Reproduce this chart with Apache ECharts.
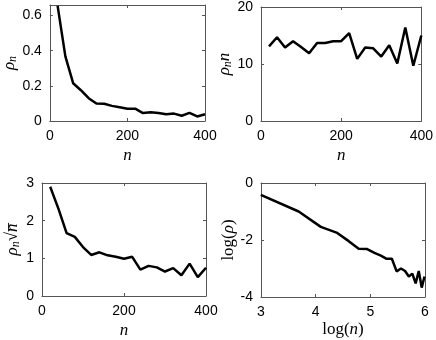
<!DOCTYPE html>
<html>
<head>
<meta charset="utf-8">
<script src="https://cdn.jsdelivr.net/npm/echarts@6/dist/echarts.min.js"></script>
<style>
  html, body { margin: 0; padding: 0; background: #fff; }
  #chart { width: 436px; height: 340px; }
</style>
</head>
<body>
<div id="chart"></div>
<script>
// sample sizes
const nValues = [20, 40, 60, 80, 100, 120, 140, 160, 180, 200, 220, 240, 260, 280, 300, 320, 340, 360, 380, 400]
// rho_n (top left)
const rho = [0.655, 0.368, 0.215, 0.175, 0.130, 0.099, 0.098, 0.086, 0.078, 0.070, 0.070, 0.045, 0.050, 0.046, 0.038, 0.042, 0.030, 0.046, 0.026, 0.038]
// rho_n * n (top right)
const rhoTimesN = [13.1, 14.7, 12.9, 14.0, 13.0, 11.9, 13.7, 13.7, 14.0, 14.0, 15.4, 10.9, 12.9, 12.75, 11.3, 13.3, 10.1, 16.4, 9.7, 15.0]
// rho_n * sqrt(n) (bottom left)
const rhoTimesSqrtN = [2.90, 2.32, 1.67, 1.57, 1.30, 1.09, 1.16, 1.08, 1.04, 0.99, 1.04, 0.70, 0.80, 0.76, 0.65, 0.74, 0.55, 0.86, 0.50, 0.75]
// log(n) and log(rho) (bottom right)
const logN = [2.996, 3.689, 4.094, 4.382, 4.605, 4.787, 4.942, 5.075, 5.193, 5.298, 5.394, 5.481, 5.561, 5.635, 5.704, 5.768, 5.829, 5.886, 5.940, 5.991]
const logRho = [-0.42, -1.00, -1.54, -1.74, -2.04, -2.31, -2.32, -2.45, -2.55, -2.66, -2.66, -3.10, -3.00, -3.09, -3.28, -3.18, -3.52, -3.09, -3.67, -3.28]

const panels = [
  { grid: { left: 42, top: 5, width: 163, height: 116 }, x: nValues, y: rho,
    xAxis: { min: 0, max: 400, interval: 200 }, yAxis: { min: 0, max: 0.66, interval: 0.2 },
    xName: '{i|n}', yName: '{i|ρ}{s|n}', yGap: 26, xGap: 26, hideMaxY: true },
  { grid: { left: 261, top: 6, width: 164, height: 115 }, x: nValues, y: rhoTimesN,
    xAxis: { min: 0, max: 400, interval: 200 }, yAxis: { min: 0, max: 20, interval: 10 },
    xName: '{i|n}', yName: '{i|ρ}{s|n}{i|n}', yGap: 24, xGap: 26 },
  { grid: { left: 42, top: 183, width: 164, height: 114 }, x: nValues, y: rhoTimesSqrtN,
    xAxis: { min: 0, max: 400, interval: 200 }, yAxis: { min: 0, max: 3, interval: 1 },
    xName: '{i|n}', yName: '{i|ρ}{s|n}{r|√}{i|n̅}', yGap: 20, xGap: 26 },
  { grid: { left: 261, top: 183, width: 164, height: 114 }, x: logN, y: logRho,
    xAxis: { min: 3, max: 6, interval: 1 }, yAxis: { min: -4, max: 0, interval: 2 },
    xName: '{r|log(}{i|n}{r|)}', yName: '{r|log(}{i|ρ}{r|)}', yGap: 20, xGap: 24 }
]

const axisColor = '#555'
const nameRich = {
  i: { fontFamily: 'Liberation Serif', fontStyle: 'italic', fontSize: 17, color: '#000' },
  r: { fontFamily: 'Liberation Serif', fontSize: 17, color: '#000' },
  s: { fontFamily: 'Liberation Serif', fontStyle: 'italic', fontSize: 12, color: '#000', padding: [6, 0, 0, 0] }
}

function baseAxis(gridIndex, range, position, showLabels) {
  return {
    type: 'value', gridIndex, position, ...range,
    axisLine: { show: true, onZero: false, lineStyle: { color: axisColor, width: 1 } },
    axisTick: { show: true, inside: true, length: 3, lineStyle: { color: axisColor } },
    axisLabel: { show: showLabels, color: '#000', fontSize: 14, fontFamily: 'Liberation Sans', margin: 8 },
    splitLine: { show: false }
  }
}

const grid = [], xAxis = [], yAxis = [], series = []
panels.forEach((p, k) => {
  grid.push(p.grid)
  const xa = baseAxis(k, p.xAxis, 'bottom', true)
  xa.name = p.xName
  xa.nameLocation = 'middle'
  xa.nameGap = p.xGap
  xa.nameTextStyle = { rich: nameRich }
  xAxis.push(xa)
  const ya = baseAxis(k, p.yAxis, 'left', true)
  ya.name = p.yName
  ya.nameLocation = 'middle'
  ya.nameGap = p.yGap
  ya.nameTextStyle = { rich: nameRich }
  if (p.hideMaxY) ya.axisLabel.showMaxLabel = false
  yAxis.push(ya)
  series.push({
    type: 'line', xAxisIndex: k, yAxisIndex: k,
    data: p.x.map((v, j) => [v, p.y[j]]),
    showSymbol: false, clip: true,
    lineStyle: { color: '#000', width: 2.5 }
  })
})
// box: mirrored axes on top and right
panels.forEach((p, k) => {
  xAxis.push(baseAxis(k, p.xAxis, 'top', false))
  yAxis.push(baseAxis(k, p.yAxis, 'right', false))
})

const chart = echarts.init(document.getElementById('chart'), null, { renderer: 'canvas' })
chart.setOption({ animation: false, backgroundColor: '#fff', grid, xAxis, yAxis, series })
</script>
</body>
</html>
